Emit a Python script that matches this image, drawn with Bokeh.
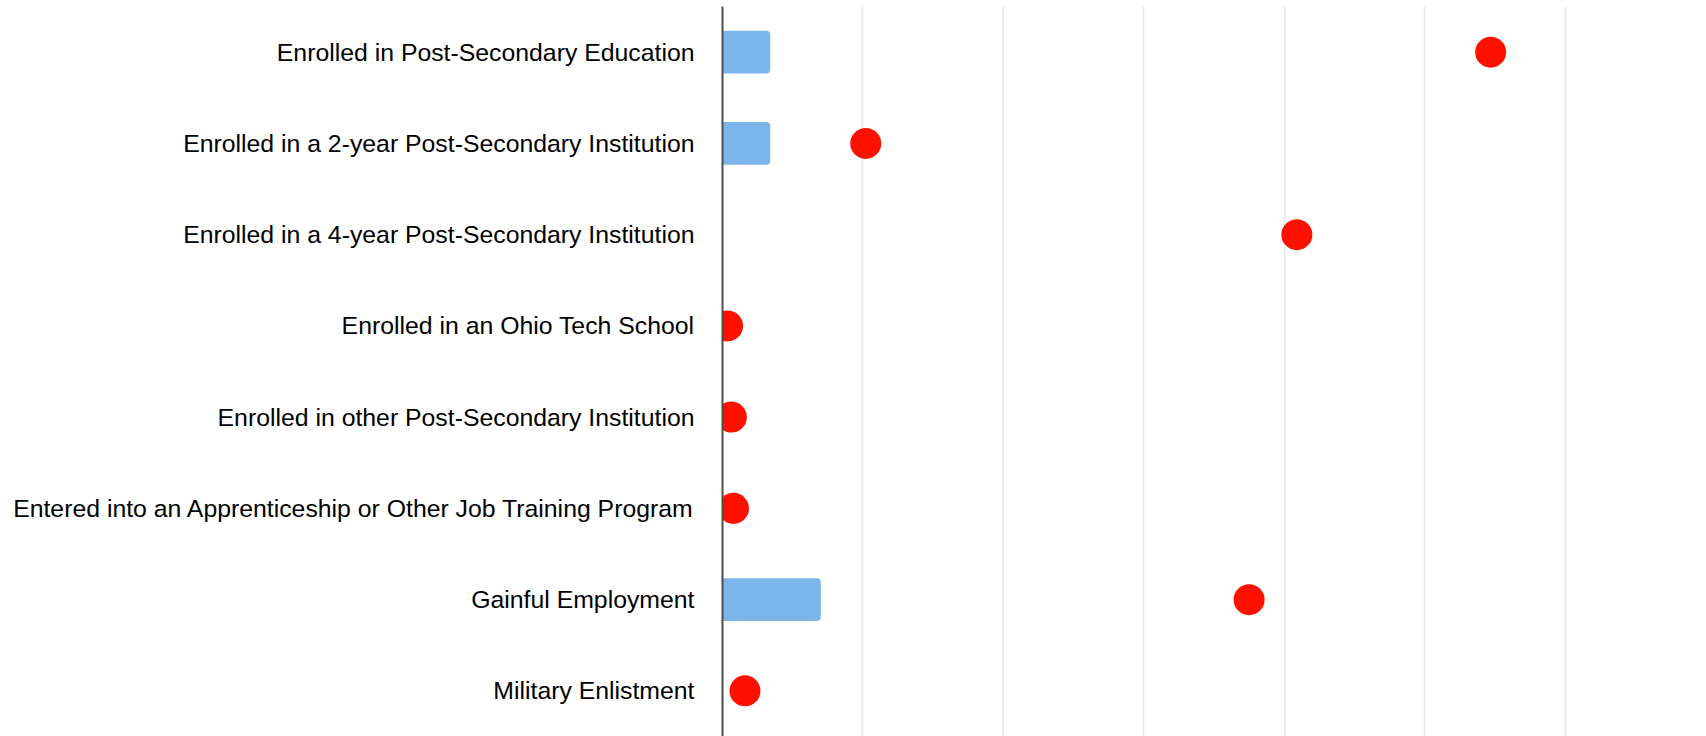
from bokeh.plotting import figure
from bokeh.models import FactorRange, Range1d, FixedTicker, ColumnDataSource
from bokeh.embed import file_html
from bokeh.resources import INLINE

categories = [
    "Enrolled in Post-Secondary Education",
    "Enrolled in a 2-year Post-Secondary Institution",
    "Enrolled in a 4-year Post-Secondary Institution",
    "Enrolled in an Ohio Tech School",
    "Enrolled in other Post-Secondary Institution",
    "Entered into an Apprenticeship or Other Job Training Program",
    "Gainful Employment",
    "Military Enlistment",
]
bar_values = [3.4, 3.4, 0.0, 0.0, 0.0, 0.0, 7.0, 0.0]
dot_values = [54.7, 10.2, 40.9, 0.36, 0.63, 0.78, 37.5, 1.6]
grid_ticks = [0, 10, 20, 30, 40, 50, 60, 70]

src = ColumnDataSource(dict(cat=categories, bar=bar_values, dot=dot_values))

yr = FactorRange(*list(reversed(categories)))
p = figure(width=1706, height=736, y_range=yr, x_range=Range1d(0, 70),
           output_backend="svg", toolbar_location=None, tools="")
p.min_border_left = 722
p.min_border_right = 1
p.min_border_top = 6
p.min_border_bottom = 0
p.outline_line_color = None
p.background_fill_color = "white"
p.border_fill_color = "white"

p.hbar(y="cat", right="bar", left=0, height=0.47, source=src,
       fill_color="#7cb5ec", line_color=None, border_radius=(0, 4, 4, 0))
p.scatter(x="dot", y="cat", size=31, source=src, fill_color="#ff1100", line_color=None)

p.xaxis.visible = False
p.xgrid.ticker = FixedTicker(ticks=grid_ticks)
p.xgrid.grid_line_color = "#e6e6e6"
p.xgrid.grid_line_width = 1.5
p.ygrid.visible = False

ya = p.yaxis[0]
ya.axis_line_color = "#4d4d4d"
ya.axis_line_width = 2
ya.major_tick_line_color = None
ya.minor_tick_line_color = None
ya.major_label_standoff = 22
ya.major_label_text_font = "Liberation Sans"
ya.major_label_text_font_size = "24.8px"
ya.major_label_text_color = "#000000"

open("out.html", "w").write(file_html(p, INLINE))
